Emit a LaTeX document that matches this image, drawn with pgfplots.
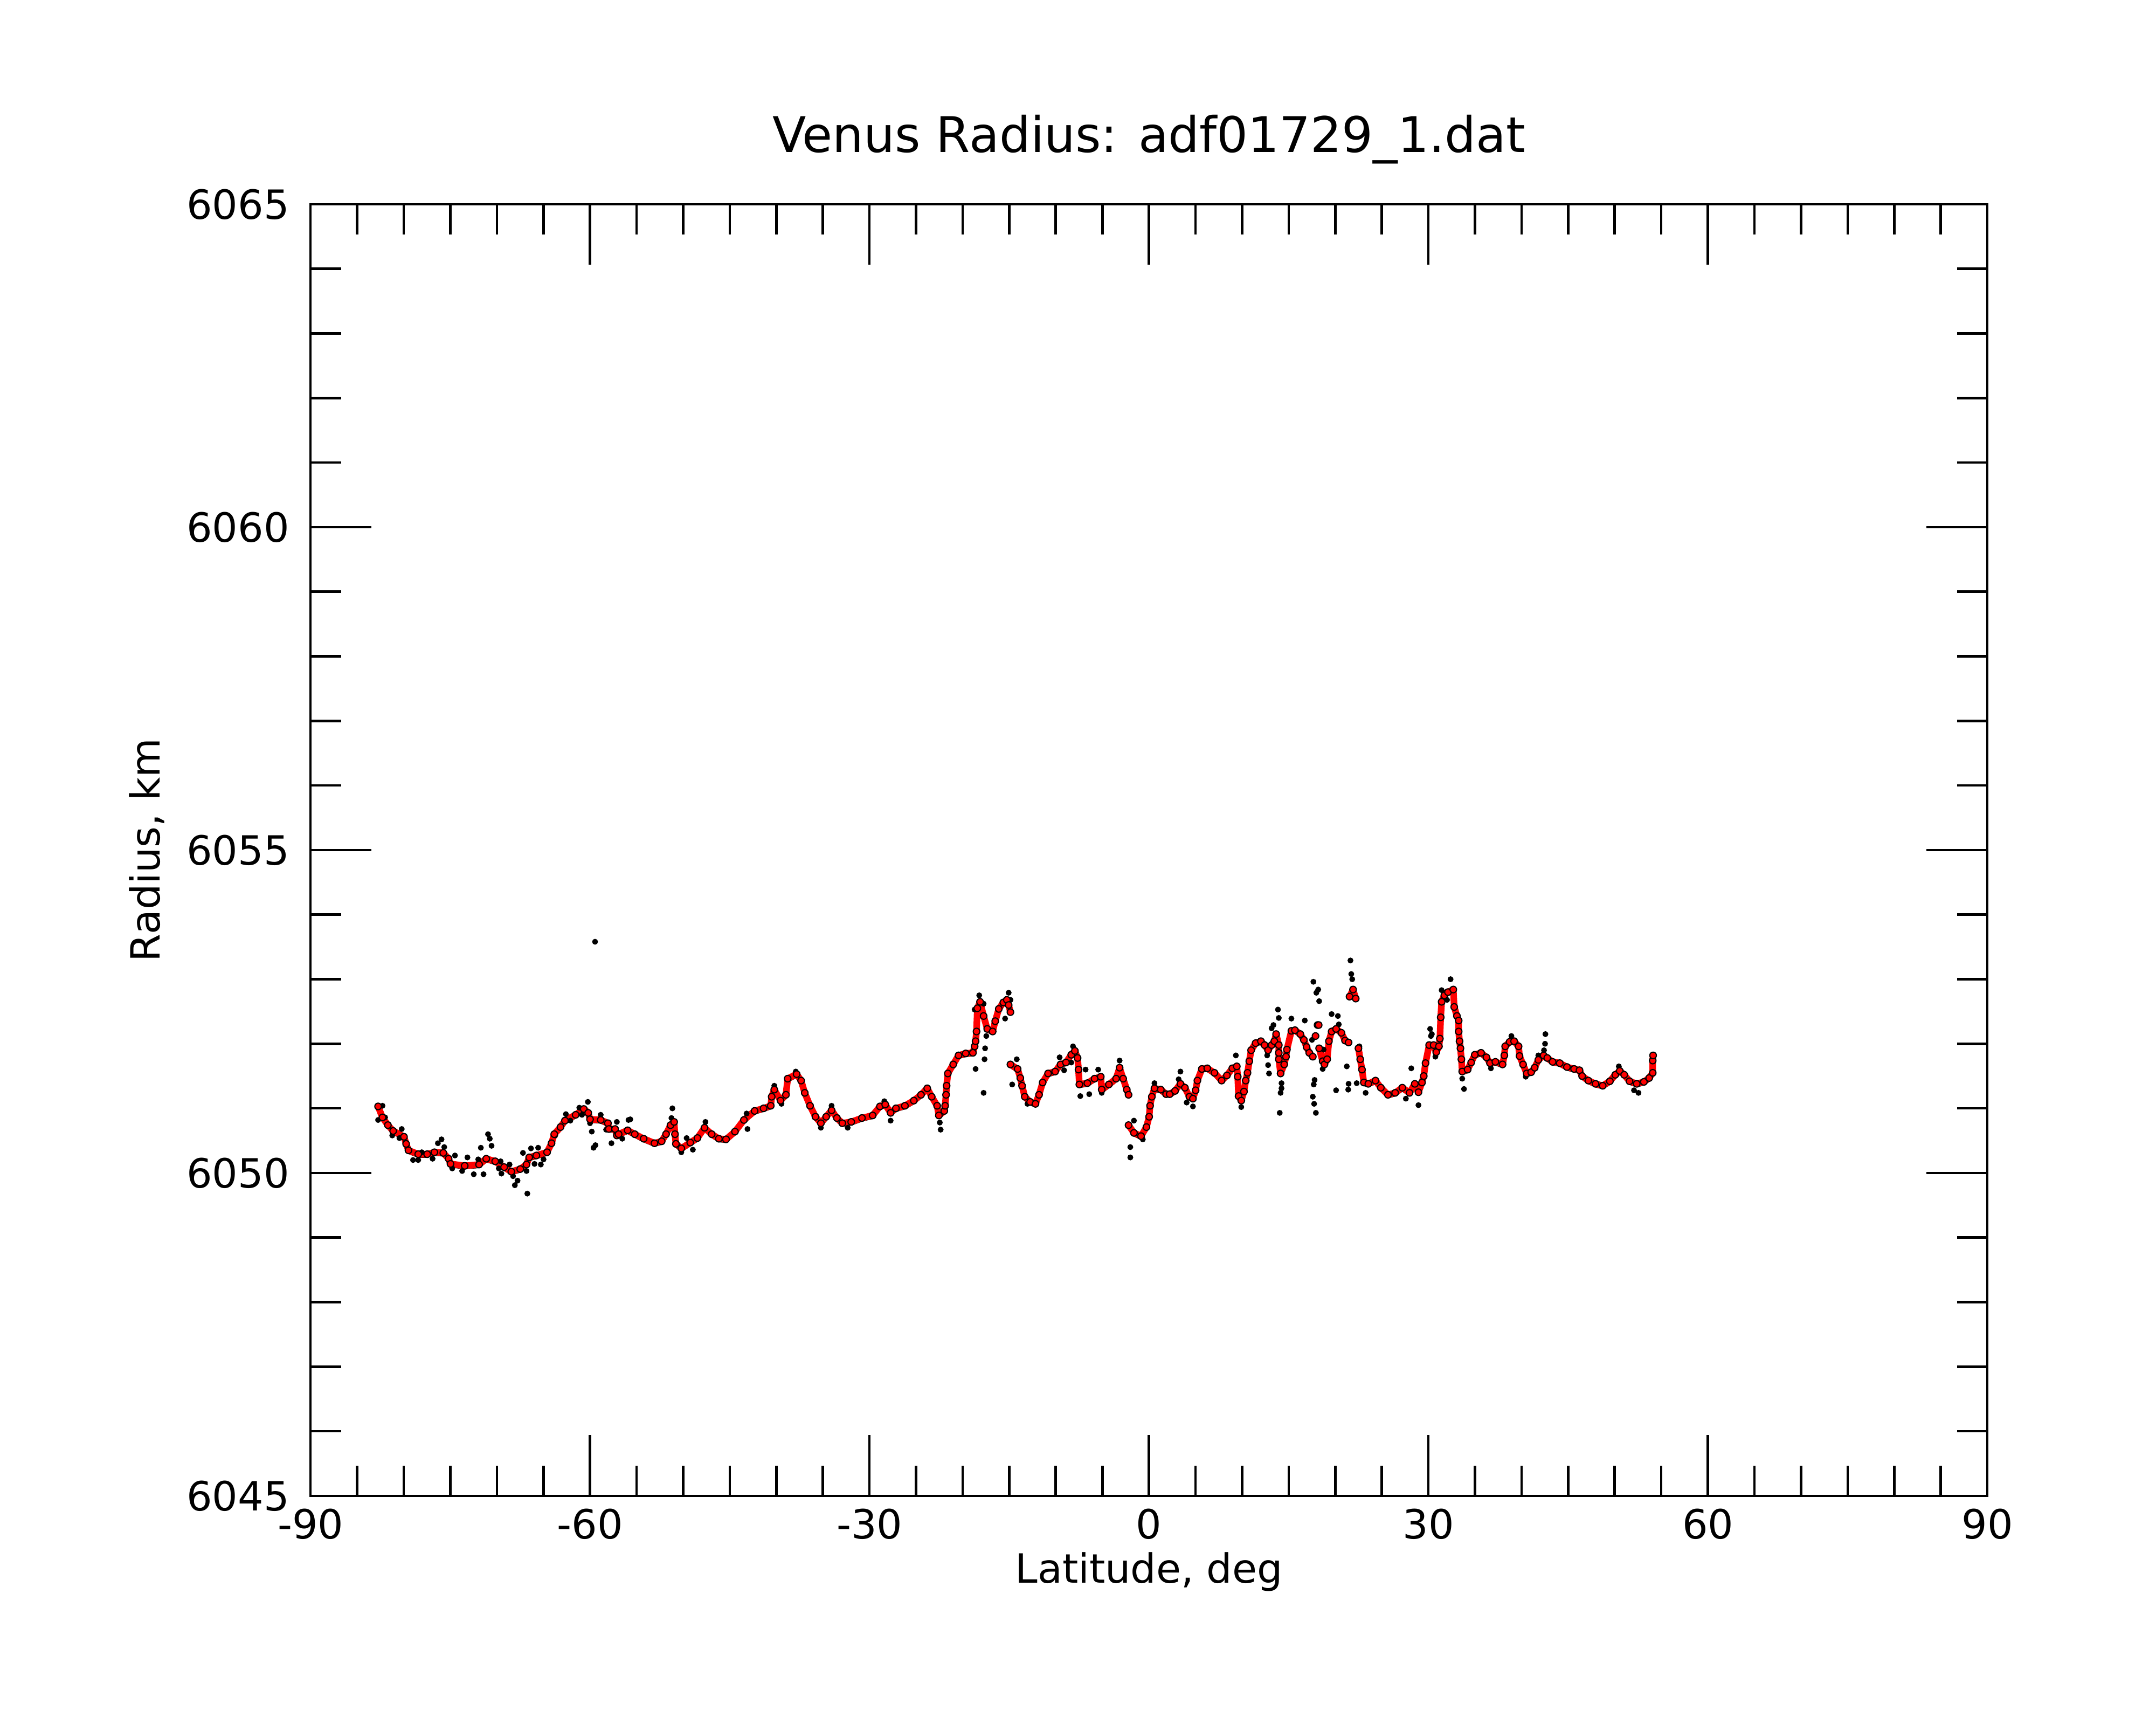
\documentclass[border=0pt]{standalone}
\usepackage{pgfplots}
\usepackage{pgfplotstable}
\pgfplotsset{compat=1.18}
\usepackage{fontspec}
\setmainfont{DejaVu Sans}

\pgfplotstableread{
x y
-82.75 6051.03
-82.28 6050.86
-81.70 6050.74
-81.13 6050.65
-79.97 6050.56
-79.74 6050.45
-79.49 6050.35
-78.44 6050.29
-77.48 6050.29
-76.71 6050.32
-75.75 6050.31
-75.18 6050.22
-74.98 6050.14
-73.45 6050.11
-71.91 6050.13
-71.14 6050.22
-70.18 6050.18
-69.22 6050.09
-68.45 6050.02
-67.49 6050.06
-66.82 6050.13
-66.53 6050.24
-65.76 6050.27
-64.61 6050.32
-64.13 6050.46
-63.84 6050.60
-63.17 6050.71
-62.69 6050.81
-61.54 6050.90
-60.67 6050.99
-60.19 6050.93
-60.00 6050.83
-58.85 6050.82
-58.08 6050.77
-57.98 6050.68
-57.31 6050.68
-57.12 6050.58
-56.93 6050.60
-55.96 6050.66
-55.20 6050.60
-54.24 6050.53
-53.08 6050.46
-52.31 6050.49
-51.84 6050.60
-51.36 6050.74
-50.97 6050.79
-50.88 6050.60
-50.78 6050.45
-50.20 6050.38
-49.24 6050.47
-48.47 6050.54
-47.71 6050.70
-46.94 6050.60
-46.17 6050.53
-45.40 6050.52
-44.44 6050.64
-43.48 6050.82
-42.33 6050.96
-41.37 6051.00
-40.60 6051.04
-40.50 6051.18
-40.22 6051.29
-39.55 6051.12
-38.97 6051.21
-38.78 6051.46
-37.82 6051.53
-37.34 6051.43
-36.95 6051.24
-36.38 6051.04
-35.80 6050.87
-35.22 6050.77
-34.65 6050.87
-34.07 6050.97
-33.50 6050.85
-32.92 6050.77
-31.96 6050.79
-30.81 6050.85
-29.66 6050.89
-28.88 6051.03
-28.31 6051.06
-27.73 6050.93
-27.16 6051.00
-26.20 6051.04
-25.24 6051.12
-24.47 6051.21
-23.80 6051.31
-23.32 6051.18
-22.74 6051.04
-22.55 6050.89
-21.97 6050.96
-21.88 6051.04
-21.78 6051.21
-21.72 6051.35
-21.59 6051.54
-21.01 6051.68
-20.44 6051.82
-19.67 6051.85
-18.90 6051.86
-18.71 6051.96
-18.61 6052.04
-18.51 6052.19
-18.42 6052.55
-18.13 6052.65
-17.75 6052.43
-17.36 6052.23
-16.78 6052.19
-16.50 6052.35
-16.12 6052.54
-15.63 6052.64
-15.25 6052.68
-15.06 6052.60
-14.87 6052.49
nan nan
-14.87 6051.68
-14.10 6051.61
-13.81 6051.47
-13.62 6051.35
-13.33 6051.18
-12.75 6051.10
-12.18 6051.07
-11.80 6051.21
-11.41 6051.40
-10.83 6051.54
-10.07 6051.57
-9.49 6051.68
-8.91 6051.71
-8.34 6051.83
-7.95 6051.89
-7.66 6051.78
-7.56 6051.60
-7.47 6051.37
-6.61 6051.39
-5.84 6051.46
-5.17 6051.49
-5.07 6051.29
-4.30 6051.37
-3.53 6051.46
-3.15 6051.63
-2.77 6051.46
-2.38 6051.29
-2.19 6051.21
nan nan
-2.19 6050.74
-1.61 6050.62
-0.85 6050.57
-0.27 6050.71
0.02 6050.87
0.12 6051.04
0.31 6051.18
0.59 6051.31
1.27 6051.29
1.84 6051.22
2.23 6051.22
2.80 6051.27
3.38 6051.38
3.86 6051.32
4.34 6051.18
4.72 6051.15
5.01 6051.28
5.20 6051.43
5.68 6051.61
6.26 6051.62
7.03 6051.55
7.80 6051.43
8.37 6051.51
8.95 6051.62
9.43 6051.65
9.53 6051.49
9.62 6051.19
9.91 6051.12
10.20 6051.26
10.39 6051.43
10.58 6051.55
10.77 6051.73
10.97 6051.90
11.45 6052.01
12.02 6052.04
12.41 6051.98
12.79 6051.90
13.17 6051.98
13.46 6052.04
13.65 6052.15
13.94 6051.98
13.94 6051.86
13.94 6051.76
14.13 6051.54
14.52 6051.68
14.71 6051.80
14.81 6051.91
15.29 6052.20
15.67 6052.21
16.25 6052.15
16.63 6052.06
16.92 6051.95
17.21 6051.86
17.59 6051.80
nan nan
18.27 6051.93
18.65 6051.73
18.84 6051.68
19.13 6051.76
19.32 6052.04
19.61 6052.19
20.09 6052.23
20.66 6052.17
21.05 6052.05
21.43 6052.02
nan nan
21.53 6052.73
21.91 6052.84
22.20 6052.70
nan nan
22.49 6051.93
22.68 6051.76
22.87 6051.60
23.07 6051.40
23.55 6051.38
24.32 6051.43
24.89 6051.32
25.66 6051.21
26.43 6051.24
27.20 6051.32
27.97 6051.24
28.54 6051.38
28.93 6051.25
29.31 6051.40
29.50 6051.50
29.69 6051.70
30.08 6051.98
30.56 6051.98
30.84 6051.87
31.13 6051.96
31.23 6052.08
31.32 6052.41
31.42 6052.65
31.71 6052.75
32.10 6052.80
32.67 6052.84
32.77 6052.57
33.06 6052.43
33.25 6052.36
33.25 6052.19
33.34 6052.04
33.44 6051.93
33.54 6051.76
33.63 6051.57
34.21 6051.60
34.59 6051.71
34.98 6051.83
35.65 6051.86
36.23 6051.79
36.61 6051.70
37.19 6051.72
37.96 6051.68
38.15 6051.82
38.24 6051.96
38.72 6052.03
39.20 6052.04
39.68 6051.96
39.78 6051.81
40.16 6051.68
40.55 6051.54
41.03 6051.56
41.41 6051.63
41.80 6051.75
42.37 6051.82
42.76 6051.78
43.33 6051.72
44.10 6051.70
44.87 6051.64
45.64 6051.61
46.22 6051.59
46.50 6051.50
47.17 6051.43
47.94 6051.38
48.71 6051.35
49.48 6051.42
50.06 6051.52
50.54 6051.58
51.02 6051.52
51.59 6051.42
52.36 6051.38
53.13 6051.41
53.70 6051.47
54.08 6051.55
54.08 6051.74
54.12 6051.82
}\redtab

\pgfplotstableread{
x y
17.88 6052.12
18.10 6052.29
18.22 6052.29
}\redextra

\pgfplotstableread{
x y
-82.28 6051.04
-82.75 6050.82
-82.00 6050.86
-81.23 6050.58
-80.21 6050.68
-80.46 6050.54
-79.00 6050.20
-78.44 6050.20
-78.06 6050.32
-76.90 6050.22
-76.33 6050.46
-75.94 6050.52
-75.65 6050.40
-74.50 6050.27
-74.79 6050.07
-73.73 6050.03
-73.16 6050.24
-72.48 6049.98
-71.72 6050.39
-70.95 6050.60
-70.76 6050.53
-70.57 6050.42
-71.43 6049.98
-72.00 6050.21
-69.60 6050.18
-69.79 6050.07
-69.51 6049.99
-68.64 6050.13
-68.26 6049.95
-67.78 6049.88
-68.07 6049.81
-66.73 6049.68
-66.82 6050.03
-67.20 6050.31
-66.34 6050.38
-65.57 6050.39
-65.96 6050.14
-65.28 6050.13
-64.99 6050.21
-63.74 6050.58
-62.59 6050.91
-62.11 6050.81
-61.15 6051.01
-60.86 6050.90
-60.23 6051.10
-60.00 6050.77
-59.81 6050.64
-59.42 6050.43
-59.62 6050.39
-58.85 6050.90
-58.27 6050.67
-57.70 6050.46
-57.12 6050.79
-56.54 6050.53
-55.87 6050.82
-59.46 6053.58
-55.68 6050.83
-51.16 6051.00
-51.26 6050.85
-50.20 6050.32
-49.63 6050.54
-48.96 6050.36
-47.61 6050.79
-43.10 6050.68
-43.19 6050.92
-40.22 6051.35
-39.45 6051.07
-37.91 6051.57
-34.07 6051.04
-35.22 6050.70
-32.34 6050.70
-28.41 6051.11
-27.73 6050.81
-22.36 6050.67
-22.45 6050.78
-18.22 6052.75
-18.71 6052.53
-17.75 6052.62
-17.59 6051.93
-17.65 6051.76
-18.61 6051.61
-17.75 6051.24
-17.46 6052.12
-15.06 6052.79
-15.44 6052.39
-14.87 6052.68
-14.19 6051.76
-14.68 6051.37
-13.04 6051.07
-9.59 6051.79
-9.11 6051.59
-8.15 6051.96
-8.34 6051.71
-6.80 6051.60
-7.37 6051.19
-6.41 6051.22
-5.45 6051.60
-5.07 6051.24
-3.15 6051.74
-1.61 6050.81
-2.00 6050.40
-2.00 6050.24
-0.66 6050.52
0.59 6051.39
21.63 6053.29
21.72 6053.08
21.82 6053.00
17.65 6052.96
18.17 6052.84
17.97 6052.79
18.27 6052.66
13.85 6052.53
13.94 6052.40
13.36 6052.29
13.17 6052.24
15.29 6052.39
16.73 6052.36
19.61 6052.46
20.28 6052.43
20.38 6052.30
12.69 6051.82
12.79 6051.67
12.89 6051.54
14.23 6051.39
14.23 6051.31
14.13 6051.24
14.04 6050.93
17.78 6051.44
17.69 6051.37
17.59 6051.18
17.73 6051.07
17.92 6050.93
21.24 6051.65
21.43 6051.38
21.39 6051.29
20.09 6051.28
22.30 6051.39
22.59 6051.96
18.65 6051.61
18.75 6051.91
17.50 6052.06
9.91 6051.02
4.72 6051.03
4.05 6051.09
3.38 6051.57
3.19 6051.45
9.33 6051.82
28.16 6051.62
28.93 6051.05
30.18 6052.23
30.37 6052.15
23.26 6051.24
27.58 6051.15
30.27 6052.12
30.75 6051.80
32.38 6053.00
31.42 6052.83
32.00 6052.68
33.63 6051.46
33.82 6051.30
38.91 6052.12
42.56 6052.15
42.52 6052.00
42.41 6051.90
41.80 6051.82
40.45 6051.49
36.71 6051.62
52.55 6051.24
52.07 6051.28
50.44 6051.65
}\blacktab

\begin{document}
\begin{tikzpicture}
\begin{axis}[
  scale only axis,
  width=607.4pt, height=467.8pt,
  xmin=-90, xmax=90, ymin=6045, ymax=6065,
  xtick={-90,-60,...,90}, minor x tick num=5,
  ytick={6045,6050,...,6065}, minor y tick num=4,
  tick align=inside,
  major tick length=22pt, minor tick length=11pt,
  every tick/.style={black, line width=0.9pt},
  axis line style={line width=0.9pt},
  /pgf/number format/assume math mode=true,
  /pgf/number format/1000 sep={},
  ticklabel style={font=\fontsize{14.6}{17}\selectfont},
  xticklabel style={anchor=base, yshift=-15.6pt, inner sep=0pt},
  yticklabel style={anchor=east, inner sep=0pt, xshift=-7.5pt},
  title={Venus Radius: adf01729\_1.dat},
  title style={font=\fontsize{17.8}{21}\selectfont, at={(axis description cs:0.5,1)}, anchor=base, yshift=12.9pt, inner sep=0pt},
  xlabel={Latitude, deg},
  xlabel style={font=\fontsize{14.6}{17}\selectfont, at={([yshift=-31.6pt]axis description cs:0.5,0)}, anchor=base, inner sep=0pt},
  ylabel={Radius, km},
  ylabel style={font=\fontsize{14.6}{17}\selectfont, at={([xshift=-54.7pt]axis description cs:0,0.5)}, anchor=base, inner sep=0pt},
  unbounded coords=jump,
  clip=true,
]
\addplot[black, line width=1.6pt, line join=round, line cap=round, yshift=-0.5pt] table[x=x,y=y] {\redtab};
\addplot[only marks, mark=*, mark size=0.85pt, mark options={draw=none, fill=black}] table[x=x,y=y] {\blacktab};
\addplot[red, line width=2.4pt, line join=round, line cap=round] table[x=x,y=y] {\redtab};
\addplot[only marks, mark=*, mark size=1.2pt, mark options={draw=none, fill=red}] table[x=x,y=y] {\redtab};
\addplot[only marks, mark=*, mark size=1.2pt, mark options={draw=none, fill=red}] table[x=x,y=y] {\redextra};
\end{axis}
\pgfresetboundingbox
\path[use as bounding box] ([shift={(-112.5pt,-83pt)}]current axis.south west) rectangle ([shift={(61.1pt,74pt)}]current axis.north east);
\end{tikzpicture}
\end{document}
